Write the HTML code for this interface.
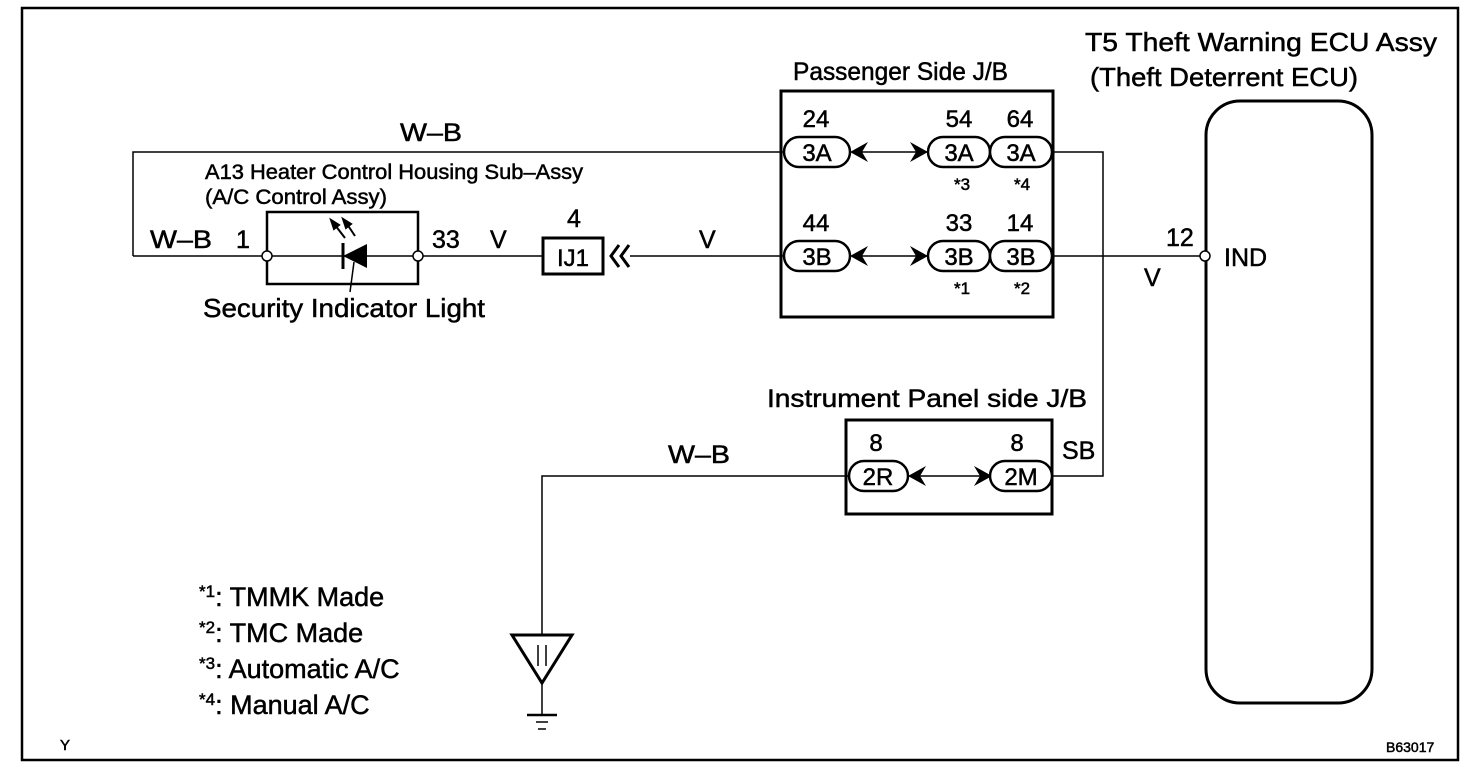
<!DOCTYPE html>
<html><head><meta charset="utf-8"><style>
html,body{margin:0;padding:0;background:#fff;}
svg{display:block;}
text{font-family:"Liberation Sans",Arial,sans-serif;fill:#000;stroke:#000;stroke-width:0.5;}
</style></head><body>
<svg width="1472" height="778" viewBox="0 0 1472 778" xmlns="http://www.w3.org/2000/svg">
<rect x="0" y="0" width="1472" height="778" fill="#fff"/>
<rect x="22" y="8" width="1436" height="752" fill="none" stroke="#000" stroke-width="2.5"/>

<g fill="none" stroke="#000" stroke-width="1.5">
  <polyline points="133,256 133,152 783,152"/>
  <line x1="133" y1="256" x2="263" y2="256"/>
  <line x1="271" y1="256" x2="414" y2="256"/>
  <line x1="422" y1="256" x2="543" y2="256"/>
  <line x1="630" y1="256" x2="783" y2="256"/>
  <line x1="852" y1="152" x2="927" y2="152"/>
  <line x1="852" y1="256" x2="927" y2="256"/>
  <polyline points="1053,152 1103,152 1103,476 1053,476"/>
  <line x1="1053" y1="256" x2="1200" y2="256"/>
  <line x1="908" y1="476" x2="990" y2="476"/>
  <polyline points="848,476 542,476 542,635"/>
  <line x1="542" y1="683" x2="542" y2="715"/>
</g>

<rect x="781" y="91" width="272" height="226" fill="none" stroke="#000" stroke-width="3"/>
<g fill="#fff" stroke="#000" stroke-width="2.5">
  <rect x="784" y="137" width="66" height="30" rx="15"/>
  <rect x="928" y="137" width="62" height="30" rx="15"/>
  <rect x="990" y="137" width="62" height="30" rx="15"/>
  <rect x="784" y="241" width="66" height="30" rx="15"/>
  <rect x="928" y="241" width="62" height="30" rx="15"/>
  <rect x="990" y="241" width="62" height="30" rx="15"/>
</g>
<g fill="#000">
  <polygon points="850,152 868,142 862,152 868,162"/>
  <polygon points="928,152 910,142 916,152 910,162"/>
  <polygon points="850,256 868,246 862,256 868,266"/>
  <polygon points="928,256 910,246 916,256 910,266"/>
  <polygon points="908,476 926,466 920,476 926,486"/>
  <polygon points="992,476 974,466 980,476 974,486"/>
</g>
<g font-size="24" text-anchor="middle">
  <text x="817" y="161">3A</text><text x="959" y="161">3A</text><text x="1021" y="161">3A</text>
  <text x="817" y="265">3B</text><text x="959" y="265">3B</text><text x="1021" y="265">3B</text>
  <text x="816" y="127">24</text><text x="959" y="127">54</text><text x="1020" y="127">64</text>
  <text x="816" y="231">44</text><text x="959" y="231">33</text><text x="1020" y="231">14</text>
</g>
<g font-size="17" text-anchor="middle">
  <text x="962" y="190">*3</text><text x="1022" y="190">*4</text>
  <text x="962" y="294">*1</text><text x="1022" y="294">*2</text>
</g>
<text x="793" y="80" font-size="25" textLength="215" lengthAdjust="spacingAndGlyphs">Passenger Side J/B</text>

<rect x="267" y="212" width="151" height="72" fill="none" stroke="#000" stroke-width="2.5"/>
<circle cx="267" cy="256" r="5" fill="#fff" stroke="#000" stroke-width="1.5"/>
<circle cx="418" cy="256" r="5" fill="#fff" stroke="#000" stroke-width="1.5"/>
<polygon points="343,256 367,244 367,268" fill="#000"/>
<line x1="343" y1="243" x2="343" y2="269" stroke="#000" stroke-width="3"/>
<line x1="354" y1="262" x2="350" y2="292" stroke="#000" stroke-width="1.5"/>
<g stroke="#000" stroke-width="2" fill="#000">
  <line x1="345" y1="238" x2="335" y2="225"/>
  <polygon points="331,220 339,225 334,229"/>
  <line x1="355" y1="236" x2="347" y2="224"/>
  <polygon points="343,219 351,224 346,228"/>
</g>
<text x="205" y="179" font-size="21" textLength="378" lengthAdjust="spacingAndGlyphs">A13 Heater Control Housing Sub–Assy</text>
<text x="205" y="204" font-size="21" textLength="182" lengthAdjust="spacingAndGlyphs">(A/C Control Assy)</text>
<text x="150" y="248" font-size="25" textLength="62" lengthAdjust="spacingAndGlyphs">W–B</text>
<text x="236" y="248" font-size="25">1</text>
<text x="432" y="248" font-size="25">33</text>
<text x="490" y="248" font-size="25">V</text>
<text x="400" y="141" font-size="25" textLength="62" lengthAdjust="spacingAndGlyphs">W–B</text>
<text x="203" y="317" font-size="26" textLength="282" lengthAdjust="spacingAndGlyphs">Security Indicator Light</text>

<rect x="543" y="238" width="60" height="36" fill="none" stroke="#000" stroke-width="3"/>
<text x="573" y="266" font-size="24" text-anchor="middle">IJ1</text>
<text x="574" y="227" font-size="25" text-anchor="middle">4</text>
<g fill="none" stroke="#000" stroke-width="3">
  <polyline points="619,245 611,256 619,267"/>
  <polyline points="629,245 621,256 629,267"/>
</g>
<text x="699" y="248" font-size="25">V</text>

<rect x="1206" y="101" width="166" height="602" rx="34" fill="none" stroke="#000" stroke-width="3"/>
<circle cx="1205" cy="256" r="5" fill="#fff" stroke="#000" stroke-width="1.5"/>
<text x="1085" y="51" font-size="26" textLength="352" lengthAdjust="spacingAndGlyphs">T5 Theft Warning ECU Assy</text>
<text x="1090" y="86" font-size="26" textLength="268" lengthAdjust="spacingAndGlyphs">(Theft Deterrent ECU)</text>
<text x="1166" y="246" font-size="25">12</text>
<text x="1224" y="266" font-size="25">IND</text>
<text x="1144" y="286" font-size="25">V</text>

<rect x="846" y="420" width="206" height="94" fill="none" stroke="#000" stroke-width="3"/>
<g fill="#fff" stroke="#000" stroke-width="2.5">
  <rect x="849" y="461" width="59" height="30" rx="15"/>
  <rect x="990" y="461" width="62" height="30" rx="15"/>
</g>
<g font-size="24" text-anchor="middle">
  <text x="878" y="485">2R</text><text x="1021" y="485">2M</text>
  <text x="876" y="451">8</text><text x="1017" y="451">8</text>
</g>
<text x="767" y="407" font-size="25" textLength="320" lengthAdjust="spacingAndGlyphs">Instrument Panel side J/B</text>
<text x="1062" y="459" font-size="25">SB</text>
<text x="668" y="463" font-size="25" textLength="62" lengthAdjust="spacingAndGlyphs">W–B</text>

<polygon points="512,635 572,635 542,683" fill="#fff" stroke="#000" stroke-width="3"/>
<line x1="538" y1="645" x2="538" y2="666" stroke="#000" stroke-width="1.5"/>
<line x1="546" y1="645" x2="546" y2="666" stroke="#000" stroke-width="1.5"/>
<line x1="527" y1="715" x2="557" y2="715" stroke="#000" stroke-width="2.5"/>
<line x1="536" y1="722" x2="548" y2="722" stroke="#000" stroke-width="1.5"/>
<line x1="538" y1="729" x2="546" y2="729" stroke="#000" stroke-width="1.5"/>

<g font-size="27">
  <text x="199" y="606"><tspan font-size="17" dy="-9">*1</tspan><tspan dy="9">: TMMK Made</tspan></text>
  <text x="199" y="642"><tspan font-size="17" dy="-9">*2</tspan><tspan dy="9">: TMC Made</tspan></text>
  <text x="199" y="678"><tspan font-size="17" dy="-9">*3</tspan><tspan dy="9">: Automatic A/C</tspan></text>
  <text x="199" y="714"><tspan font-size="17" dy="-9">*4</tspan><tspan dy="9">: Manual A/C</tspan></text>
</g>
<text x="60" y="750" font-size="15">Y</text>
<text x="1386" y="752" font-size="14">B63017</text>
</svg>
</body></html>
